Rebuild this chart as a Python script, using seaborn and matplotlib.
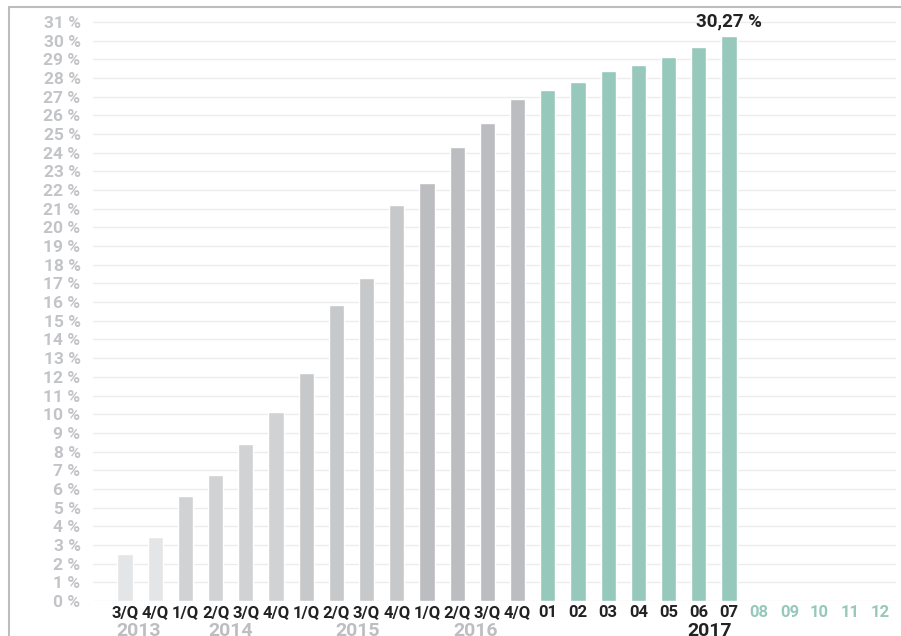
import numpy as np
import pandas as pd
import seaborn as sns
import matplotlib.pyplot as plt
from matplotlib.lines import Line2D

# periods and values (share in %)
years = ["2013"] * 2 + ["2014"] * 4 + ["2015"] * 4 + ["2016"] * 4 + ["2017"] * 12
labels = ["3/Q", "4/Q",
          "1/Q", "2/Q", "3/Q", "4/Q",
          "1/Q", "2/Q", "3/Q", "4/Q",
          "1/Q", "2/Q", "3/Q", "4/Q",
          "01", "02", "03", "04", "05", "06", "07", "08", "09", "10", "11", "12"]
values = [2.5, 3.45,
          5.6, 6.75, 8.4, 10.1,
          12.2, 15.85, 17.3, 21.2,
          22.4, 24.3, 25.6, 26.9,
          27.35, 27.8, 28.4, 28.7, 29.1, 29.65, 30.27,
          np.nan, np.nan, np.nan, np.nan, np.nan]

year_colors = {"2013": "#e4e5e7", "2014": "#d1d2d4", "2015": "#c7c8ca",
               "2016": "#bcbdc1", "2017": "#96c8bb"}

df = pd.DataFrame({"year": years, "label": labels, "value": values})
df["key"] = df["year"] + " " + df["label"]
order = list(df["key"])
pal = {k: year_colors[y] for k, y in zip(df["key"], df["year"])}

sns.set_theme(style="white")
plt.rcParams["font.family"] = ["Roboto", "DejaVu Sans"]

fig = plt.figure(figsize=(9.01, 6.36), dpi=100)
ax = fig.add_axes([93 / 901, 35 / 636, 803 / 901, 594 / 636])

sns.barplot(data=df, x="key", y="value", hue="key", order=order, palette=pal,
            width=0.5, legend=False, saturation=1, ax=ax)

ax.set_xlim(-1.06, 25.53)
ax.set_ylim(0, 31.8)
ax.set_yticks(range(0, 32))
ax.set_yticklabels([f"{i} %" for i in range(0, 32)], fontsize=12.5, fontweight="bold",
                   color="#c3c4c8")
ax.yaxis.grid(True, color="#ececec", linewidth=1)
ax.set_axisbelow(True)
for s in ax.spines.values():
    s.set_visible(False)
ax.tick_params(axis="both", length=0, pad=3)
ax.tick_params(axis="y", pad=9)

ax.set_xticks(range(len(labels)))
ax.set_xticklabels(labels, fontsize=12, fontweight="bold")
for i, t in enumerate(ax.get_xticklabels()):
    t.set_color("#96c8bb" if np.isnan(values[i]) else "#222222")
ax.set_xlabel("")
ax.set_ylabel("")

# year labels under the quarters
year_pos = {"2013": (0.45, "#bdbec2"), "2014": (3.5, "#bdbec2"),
            "2015": (7.7, "#bdbec2"), "2016": (11.6, "#bdbec2"),
            "2017": (19.35, "#222222")}
for y, (xp, c) in year_pos.items():
    ax.text(xp, -1.62, y, ha="center", va="center", fontsize=14, fontweight="bold",
            color=c, clip_on=False)

# value label on last bar
last = 20
ax.text(last, values[last] + 0.3, "30,27 %", ha="center", va="bottom", fontsize=13.5,
        fontweight="bold", color="#222222")

# frame lines (top and left)
fig.add_artist(Line2D([9 / 901, 1], [1 - 7 / 636, 1 - 7 / 636], color="#bdbdbd",
                      linewidth=1.5, transform=fig.transFigure))
fig.add_artist(Line2D([9 / 901, 9 / 901], [0, 1 - 7 / 636], color="#bdbdbd",
                      linewidth=1.5, transform=fig.transFigure))

fig.savefig("out.png", dpi=100, facecolor="white")
